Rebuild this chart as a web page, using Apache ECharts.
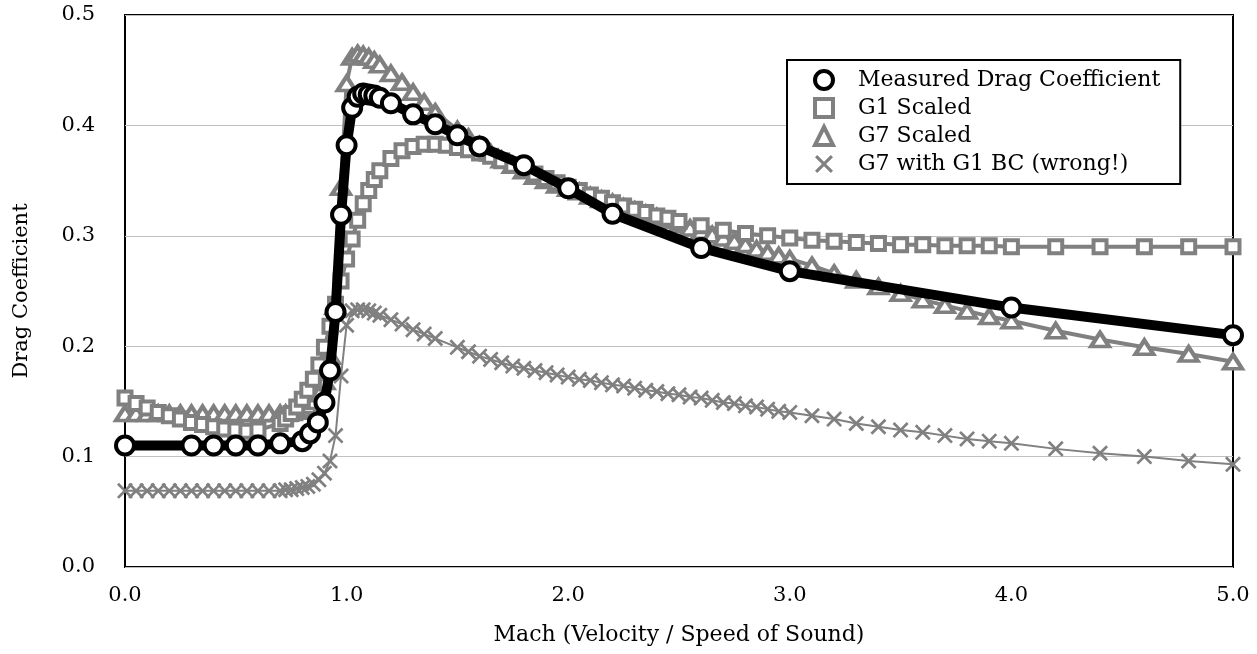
<!DOCTYPE html>
<html>
<head>
<meta charset="utf-8">
<script src="https://cdn.jsdelivr.net/npm/echarts@6/dist/echarts.min.js"></script>
<style>
html,body{margin:0;padding:0;background:#fff;}
#chart{width:1257px;height:654px;}
</style>
</head>
<body>
<div id="chart"></div>
<script>
// ---- Data ----
const measuredMach = [0, 0.3, 0.4, 0.5, 0.6, 0.7, 0.8, 0.835, 0.87, 0.9, 0.925, 0.95, 0.975, 1.0, 1.025, 1.05, 1.075, 1.1, 1.125, 1.15, 1.2, 1.3, 1.4, 1.5, 1.6, 1.8, 2.0, 2.2, 2.6, 3.0, 4.0, 5.0];
const measuredCd   = [0.110, 0.110, 0.110, 0.110, 0.110, 0.112, 0.114, 0.121, 0.131, 0.149, 0.178, 0.231, 0.319, 0.382, 0.416, 0.426, 0.429, 0.428, 0.427, 0.425, 0.420, 0.410, 0.401, 0.391, 0.381, 0.364, 0.343, 0.320, 0.289, 0.268, 0.235, 0.210];

const g1Mach = [0, 0.05, 0.1, 0.15, 0.2, 0.25, 0.3, 0.35, 0.4, 0.45, 0.5, 0.55, 0.6,
  0.7, 0.725, 0.75, 0.775, 0.8, 0.825, 0.85, 0.875, 0.9, 0.925, 0.95, 0.975, 1.0, 1.025, 1.05, 1.075, 1.1, 1.125, 1.15,
  1.2, 1.25, 1.3, 1.35, 1.4, 1.45, 1.5, 1.55, 1.6, 1.65, 1.7, 1.75, 1.8, 1.85, 1.9, 1.95, 2.0, 2.05, 2.1, 2.15, 2.2, 2.25, 2.3, 2.35, 2.4, 2.45, 2.5,
  2.6, 2.7, 2.8, 2.9, 3.0, 3.1, 3.2, 3.3, 3.4, 3.5, 3.6, 3.7, 3.8, 3.9, 4.0, 4.2, 4.4, 4.6, 4.8, 5.0];
const g1Cd = [0.153, 0.148, 0.144, 0.140, 0.137, 0.134, 0.131, 0.129, 0.127, 0.125, 0.124, 0.123, 0.124,
  0.130, 0.134, 0.139, 0.145, 0.152, 0.160, 0.170, 0.183, 0.199, 0.218, 0.238, 0.259, 0.279, 0.297, 0.314, 0.329, 0.341, 0.351, 0.359,
  0.370, 0.377, 0.381, 0.383, 0.383, 0.382, 0.380, 0.378, 0.375, 0.372, 0.368, 0.364, 0.360, 0.356, 0.352, 0.348, 0.344, 0.341, 0.337, 0.334, 0.330, 0.327, 0.324, 0.321, 0.318, 0.316, 0.313,
  0.309, 0.305, 0.302, 0.300, 0.298, 0.296, 0.295, 0.294, 0.293, 0.292, 0.292, 0.291, 0.291, 0.291, 0.290, 0.290, 0.290, 0.290, 0.290, 0.290];

const g7Mach = [0, 0.05, 0.1, 0.15, 0.2, 0.25, 0.3, 0.35, 0.4, 0.45, 0.5, 0.55, 0.6, 0.65, 0.7,
  0.725, 0.75, 0.775, 0.8, 0.825, 0.85, 0.875, 0.9, 0.925, 0.95, 0.975, 1.0, 1.025, 1.05, 1.075, 1.1, 1.125, 1.15,
  1.2, 1.25, 1.3, 1.35, 1.4,
  1.5, 1.55, 1.6, 1.65, 1.7, 1.75, 1.8, 1.85, 1.9, 1.95, 2.0, 2.05, 2.1, 2.15, 2.2, 2.25, 2.3, 2.35, 2.4, 2.45, 2.5, 2.55, 2.6, 2.65, 2.7, 2.75, 2.8, 2.85, 2.9, 2.95, 3.0,
  3.1, 3.2, 3.3, 3.4, 3.5, 3.6, 3.7, 3.8, 3.9, 4.0, 4.2, 4.4, 4.6, 4.8, 5.0];
const g7Cd = [0.139, 0.139, 0.139, 0.139, 0.139, 0.139, 0.139, 0.139, 0.139, 0.139, 0.139, 0.139, 0.139, 0.139, 0.139,
  0.139, 0.140, 0.141, 0.143, 0.146, 0.150, 0.157, 0.168, 0.191, 0.236, 0.344, 0.438, 0.462, 0.465, 0.464, 0.462, 0.459, 0.455,
  0.447, 0.439, 0.430, 0.421, 0.412,
  0.396, 0.389, 0.382, 0.375, 0.369, 0.364, 0.359, 0.354, 0.350, 0.346, 0.343, 0.340, 0.336, 0.333, 0.330, 0.326, 0.323, 0.320, 0.317, 0.314, 0.310, 0.307, 0.304, 0.301, 0.298, 0.295, 0.292, 0.288, 0.285, 0.282, 0.279,
  0.273, 0.266, 0.260, 0.254, 0.248, 0.242, 0.237, 0.232, 0.227, 0.223, 0.214, 0.206, 0.199, 0.193, 0.186];

const g7g1Cd = [0.069, 0.069, 0.069, 0.069, 0.069, 0.069, 0.069, 0.069, 0.069, 0.069, 0.069, 0.069, 0.069, 0.069, 0.069,
  0.070, 0.070, 0.071, 0.072, 0.073, 0.075, 0.079, 0.085, 0.096, 0.119, 0.173, 0.219, 0.232, 0.233, 0.233, 0.232, 0.230, 0.228,
  0.224, 0.220, 0.215, 0.211, 0.207,
  0.199, 0.195, 0.191, 0.188, 0.185, 0.182, 0.180, 0.178, 0.176, 0.174, 0.172, 0.170, 0.169, 0.167, 0.165, 0.164, 0.162, 0.160, 0.159, 0.157, 0.156, 0.154, 0.153, 0.151, 0.149, 0.148, 0.146, 0.145, 0.143, 0.141, 0.140,
  0.137, 0.134, 0.130, 0.127, 0.124, 0.122, 0.119, 0.116, 0.114, 0.112, 0.107, 0.103, 0.100, 0.096, 0.093];

const xTicks = ['0.0', '1.0', '2.0', '3.0', '4.0', '5.0'];
const yTicks = ['0.0', '0.1', '0.2', '0.3', '0.4', '0.5'];
const seriesNames = ['Measured Drag Coefficient', 'G1 Scaled', 'G7 Scaled', 'G7 with G1 BC (wrong!)'];
const xTitle = 'Mach (Velocity / Speed of Sound)';
const yTitle = 'Drag Coefficient';

// ---- Chart ----
const FONT = 'DejaVu Serif';
const GRAY = '#808080';
const XPATH = 'path://M0,1.2 L1.2,0 L5,3.8 L8.8,0 L10,1.2 L6.2,5 L10,8.8 L8.8,10 L5,6.2 L1.2,10 L0,8.8 L3.8,5 Z';
const zip = (xs, ys) => xs.map((x, i) => [x, ys[i]]);

const chart = echarts.init(document.getElementById('chart'), null, {renderer: 'canvas'});
chart.setOption({
  animation: false,
  backgroundColor: '#fff',
  textStyle: {fontFamily: FONT},
  grid: {left: 125, right: 24, top: 15, bottom: 87, show: true, borderColor: '#000', borderWidth: 2, backgroundColor: 'transparent'},
  xAxis: {
    type: 'value', min: 0, max: 5, interval: 1,
    name: xTitle, nameLocation: 'middle', nameGap: 57,
    nameTextStyle: {fontFamily: FONT, fontSize: 22, color: '#000'},
    axisLine: {show: false}, axisTick: {show: false}, splitLine: {show: false},
    axisLabel: {fontFamily: FONT, fontSize: 21, color: '#000', margin: 18, formatter: v => xTicks[Math.round(v)]}
  },
  yAxis: {
    type: 'value', min: 0, max: 0.5, interval: 0.1,
    name: yTitle, nameLocation: 'middle', nameGap: 93, nameRotate: 90,
    nameTextStyle: {fontFamily: FONT, fontSize: 21, color: '#000'},
    axisLine: {show: false}, axisTick: {show: false},
    splitLine: {show: true, lineStyle: {color: '#c0c0c0', width: 1}},
    axisLabel: {fontFamily: FONT, fontSize: 21, color: '#000', margin: 30, formatter: v => yTicks[Math.round(v * 10)]}
  },
  legend: {
    orient: 'vertical', left: 787, top: 60,
    backgroundColor: '#fff', borderColor: '#000', borderWidth: 2,
    padding: [8, 20, 8, 26], itemGap: 4, itemWidth: 18, itemHeight: 18,
    textStyle: {fontFamily: FONT, fontSize: 22, lineHeight: 24, color: '#000', padding: [0, 0, 0, 20]},
    data: [
      {name: seriesNames[0], icon: 'circle', itemStyle: {color: '#fff', borderColor: '#000', borderWidth: 4}},
      {name: seriesNames[1], icon: 'rect', itemStyle: {color: '#fff', borderColor: GRAY, borderWidth: 4}},
      {name: seriesNames[2], icon: 'triangle', itemStyle: {color: '#fff', borderColor: GRAY, borderWidth: 4}},
      {name: seriesNames[3], icon: XPATH, itemStyle: {color: GRAY, borderWidth: 0}}
    ]
  },
  series: [
    {
      name: seriesNames[3], type: 'line', z: 2, data: zip(g7Mach, g7g1Cd),
      symbol: XPATH, symbolSize: 16,
      lineStyle: {color: GRAY, width: 2},
      itemStyle: {color: GRAY, borderWidth: 0}
    },
    {
      name: seriesNames[2], type: 'line', z: 3, data: zip(g7Mach, g7Cd),
      symbol: 'triangle', symbolSize: [18, 14],
      lineStyle: {color: GRAY, width: 4},
      itemStyle: {color: '#fff', borderColor: GRAY, borderWidth: 4}
    },
    {
      name: seriesNames[1], type: 'line', z: 4, data: zip(g1Mach, g1Cd),
      symbol: 'rect', symbolSize: 13,
      lineStyle: {color: GRAY, width: 4},
      itemStyle: {color: '#fff', borderColor: GRAY, borderWidth: 4}
    },
    {
      name: seriesNames[0], type: 'line', z: 5, data: zip(measuredMach, measuredCd),
      symbol: 'circle', symbolSize: 18,
      lineStyle: {color: '#000', width: 10},
      itemStyle: {color: '#fff', borderColor: '#000', borderWidth: 4}
    }
  ]
});
</script>
</body>
</html>
